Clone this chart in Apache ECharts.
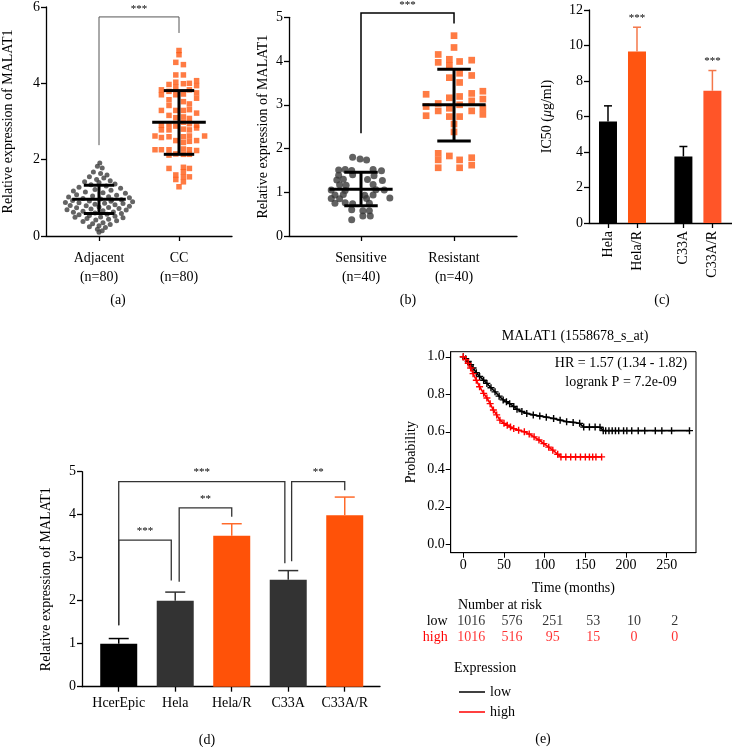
<!DOCTYPE html>
<html>
<head>
<meta charset="utf-8">
<script src="https://cdn.jsdelivr.net/npm/echarts@6/dist/echarts.min.js"></script>
<style>
  html, body { margin: 0; background: #fff; }
  #chart { width: 732px; height: 747px; }
</style>
</head>
<body>
<div id="chart"></div>
<script>
// ---- data ----
// (a) tissue: [x jitter, value]
const aCats = ['Adjacent\n(n=80)', 'CC\n(n=80)'];
const aAdjacent = [
  [0.01,1.91],[-0.02,1.83],[0.04,1.78],[-0.07,1.68],[0.02,1.64],[0.1,1.6],[-0.12,1.55],[0.06,1.52],
  [-0.03,1.48],[0.14,1.45],[-0.18,1.42],[0.0,1.4],[0.2,1.36],[-0.1,1.34],[0.09,1.31],[-0.25,1.28],
  [0.27,1.25],[-0.05,1.22],[0.15,1.2],[-0.32,1.18],[-0.17,1.15],[0.05,1.13],[0.33,1.12],[-0.28,1.08],
  [0.22,1.07],[-0.08,1.05],[0.12,1.03],[-0.38,1.02],[0.38,1.0],[-0.2,0.98],[0.02,0.97],[0.28,0.95],
  [-0.33,0.93],[-0.12,0.92],[0.15,0.91],[0.42,0.9],[-0.42,0.88],[-0.25,0.87],[0.07,0.86],[0.3,0.85],
  [-0.05,0.83],[0.2,0.82],[-0.36,0.8],[-0.16,0.79],[0.38,0.78],[0.0,0.76],[0.12,0.75],[-0.28,0.74],
  [0.25,0.72],[-0.1,0.71],[-0.4,0.69],[0.34,0.68],[0.05,0.66],[-0.2,0.65],[0.18,0.63],[-0.32,0.62],
  [-0.05,0.6],[0.28,0.59],[0.1,0.57],[-0.25,0.56],[-0.12,0.54],[0.2,0.52],[0.02,0.5],[-0.3,0.49],
  [0.3,0.48],[-0.15,0.46],[0.12,0.44],[-0.04,0.42],[0.22,0.4],[-0.2,0.38],[0.05,0.35],[-0.08,0.32],
  [0.14,0.3],[0.0,0.27],[-0.12,0.24],[0.08,0.22],[-0.02,0.18],[0.04,0.14],[0.0,0.1],[0.16,0.95]
];
const aCC = [
  [0,4.86],[0,4.75],[-0.04,4.55],[0.055,4.49],[-0.04,4.22],[0.055,4.22],
  [-0.125,3.97],[-0.04,4.03],[0.055,3.99],[0.13,4.0],[0.22,4.07],
  [-0.22,3.83],[-0.125,3.79],[-0.04,3.9],[0.13,3.83],[0.22,3.94],
  [-0.22,3.7],[-0.125,3.57],[-0.04,3.7],[0.055,3.72],[0.22,3.61],
  [-0.125,3.42],[0.055,3.52],[0.13,3.46],
  [-0.22,3.29],[-0.04,3.29],[0.055,3.29],[0.13,3.31],[0.22,3.22],
  [-0.125,3.16],[0.055,3.12],[0.13,3.08],
  [-0.22,2.9],[-0.125,2.92],[-0.04,2.88],[0.055,2.98],[0.13,2.94],[0.22,2.9],
  [-0.22,2.78],[-0.125,2.78],[0.055,2.8],[0.13,2.78],[0.22,2.83],
  [-0.3,2.62],[-0.22,2.58],[-0.125,2.6],[0.055,2.6],[0.13,2.62],[0.32,2.62],
  [-0.04,2.5],[0.055,2.45],[0.13,2.48],[0.22,2.5],
  [-0.3,2.26],[-0.22,2.26],[-0.125,2.26],[0.055,2.28],[0.13,2.26],[0.22,2.24],
  [-0.125,2.12],[-0.04,2.15],[0.055,2.14],[0.13,2.14],
  [-0.125,1.77],[0.055,1.8],[0.055,1.68],[0.13,1.77],
  [-0.04,1.6],[0.055,1.55],[0.13,1.55],[-0.04,1.48],[0.055,1.42],[0,1.29],
  [-0.04,3.1],[0.22,3.75]
];
const aMeanSd = [[0.96, 0.59, 1.33], [2.98, 2.14, 3.81]];
const aBrackets = [[0, 1, 2.38, 5.74, 5.32]];
const aSig = ['***'];

// (b) patients
const bCats = ['Sensitive\n(n=40)', 'Resistant\n(n=40)'];
const bSensitive = [
  [-0.09,1.8],[-0.01,1.76],[0.06,1.74],
  [-0.24,1.51],[-0.17,1.52],[-0.1,1.5],[0.13,1.52],[0.22,1.49],
  [-0.24,1.39],[-0.09,1.4],[0.14,1.38],
  [-0.26,1.28],[-0.19,1.3],[0.07,1.29],[0.23,1.27],
  [-0.23,1.17],[-0.16,1.16],[0.13,1.18],
  [-0.32,1.05],[-0.17,1.04],[0.16,1.06],[0.25,1.05],
  [-0.28,0.94],[-0.19,0.95],[0.04,0.93],[0.13,0.94],
  [-0.32,0.86],[-0.23,0.85],[0.06,0.86],[0.31,0.87],
  [-0.28,0.75],[-0.17,0.76],[-0.09,0.74],[0.09,0.75],
  [-0.1,0.6],[0.02,0.58],[0.09,0.58],[0.02,0.46],[0.1,0.46],[-0.1,0.37]
];
const bResistant = [
  [0,4.58],[0,4.31],[-0.17,4.15],[-0.17,3.97],[-0.05,4.04],[-0.05,3.9],[0.06,3.99],[0.19,4.02],
  [-0.05,3.62],[0.06,3.72],[0.19,3.67],[0.06,3.51],
  [-0.3,3.24],[-0.17,3.03],[-0.05,3.16],[0.06,3.19],[0.06,3.0],[0.19,3.26],[0.19,3.09],[0.31,3.31],[0.31,3.13],
  [-0.3,2.96],[-0.3,2.75],[-0.17,2.86],[-0.05,2.92],[-0.05,2.73],[0.06,2.73],[0.19,2.86],[0.31,2.93],[0.31,2.78],
  [0,2.56],[0,2.38],
  [-0.17,1.89],[-0.17,1.74],[-0.17,1.56],[-0.05,1.83],[0.06,1.74],[0.06,1.56],[0.19,1.79],[0.19,1.62]
];
const bMeanSd = [[1.07, 0.69, 1.46], [3.0, 2.17, 3.81]];
const bBrackets = [[0, 1, 2.35, 5.1, 4.86]];
const bSig = ['***'];

// (c) IC50
const cCats = ['Hela', 'Hela/R', 'C33A', 'C33A/R'];
const cMean = [5.72, 9.66, 3.75, 7.45];
const cErr = [6.6, 11.03, 4.31, 8.59];
const cSig = ['', '***', '', '***'];

// (d) cell lines
const dCats = ['HcerEpic', 'Hela', 'Hela/R', 'C33A', 'C33A/R'];
const dMean = [1.0, 2.0, 3.51, 2.49, 3.99];
const dErr = [1.12, 2.2, 3.79, 2.7, 4.41];
const dBrackets = [
  [0, 0.93, 1.43, 3.41, 2.47],
  [1.07, 2, 2.44, 4.16, 3.95],
  [0, 2.94, 1.43, 4.77, 2.87],
  [3.06, 4, 2.92, 4.77, 4.57]
];
const dSig = ['***', '**', '***', '**'];

// (e) Kaplan-Meier
const kmLow = [
  [0,1.0],[3,0.99],[6,0.975],[9,0.958],[12,0.94],[16,0.915],[20,0.895],[25,0.875],[29,0.858],
  [34,0.835],[39,0.813],[44,0.79],[49,0.77],[53,0.76],[57,0.75],[62,0.735],[66,0.72],[72,0.708],
  [78,0.698],[86,0.69],[94,0.684],[102,0.678],[111,0.671],[119,0.662],[127,0.654],[135,0.65],
  [143,0.645],[148,0.625],[155,0.625],[162,0.625],[168,0.624],[172,0.606],[175,0.606],[179,0.606],
  [183,0.606],[187,0.606],[191,0.606],[197,0.606],[201,0.606],[207,0.606],[215,0.606],[223,0.606],
  [236,0.606],[244,0.606],[256,0.606],[278,0.606]
];
const kmHigh = [
  [0,1.0],[3,0.985],[6,0.965],[9,0.94],[12,0.91],[16,0.875],[20,0.84],[25,0.805],[29,0.78],
  [33,0.75],[37,0.716],[41,0.69],[45,0.662],[50,0.645],[54,0.635],[58,0.625],[62,0.617],[68,0.608],
  [75,0.6],[81,0.588],[87,0.573],[93,0.556],[99,0.537],[105,0.518],[110,0.502],[116,0.48],
  [120,0.466],[126,0.466],[132,0.466],[138,0.466],[144,0.466],[150,0.466],[155,0.466],[159,0.466],
  [163,0.466],[170,0.466]
];
const riskTimes = [0, 50, 100, 150, 200, 250];
const riskLow = [1016, 576, 251, 53, 10, 2];
const riskHigh = [1016, 516, 95, 15, 0, 0];

// ---- helpers ----
const F = '"Liberation Serif", "DejaVu Serif", serif';
const FS = 14;
const txt = (size, color) => ({ fontFamily: F, fontSize: size, color: color || '#000' });
const axLine = { show: true, onZero: false, lineStyle: { color: '#000', width: 1.3 } };
const axTick = { show: true, length: 5, lineStyle: { color: '#000', width: 1.3 } };

function xCustom(gridIndex, min, max, ticks, labels, labelExtra) {
  return {
    type: 'value', gridIndex, min, max,
    axisLine: axLine,
    axisTick: Object.assign({ customValues: ticks }, axTick),
    axisLabel: Object.assign({
      customValues: ticks,
      formatter: v => labels[ticks.findIndex(t => Math.abs(t - v) < 1e-6)] || ''
    }, txt(FS), labelExtra || {}),
    splitLine: { show: false }
  };
}

function yValue(gridIndex, min, max, interval, name, nameGap) {
  return {
    type: 'value', gridIndex, min, max, interval,
    name, nameLocation: 'middle', nameGap, nameTextStyle: txt(FS),
    axisLine: axLine, axisTick: axTick,
    axisLabel: Object.assign({ margin: 6 }, txt(FS)),
    splitLine: { show: false }
  };
}

function seg(a, b, color, w) {
  return { type: 'line', shape: { x1: a[0], y1: a[1], x2: b[0], y2: b[1] }, style: { stroke: color, lineWidth: w } };
}

function meanSdRender(halfMean, halfCap) {
  return (params, api) => {
    const x = api.value(0), m = api.value(1), lo = api.value(2), hi = api.value(3);
    return {
      type: 'group', children: [
        seg(api.coord([x - halfMean, m]), api.coord([x + halfMean, m]), '#000', 3),
        seg(api.coord([x, lo]), api.coord([x, hi]), '#000', 3),
        seg(api.coord([x - halfCap, lo]), api.coord([x + halfCap, lo]), '#000', 3),
        seg(api.coord([x - halfCap, hi]), api.coord([x + halfCap, hi]), '#000', 3)
      ]
    };
  };
}

function textEl(x, y, s, size, align, color) {
  return {
    type: 'text', x, y,
    style: { text: s, font: size + 'px ' + F, fill: color || '#000', textAlign: align || 'center', textVerticalAlign: 'middle', align: align || 'center', verticalAlign: 'middle' }
  };
}

function bracketRender(sigs, color, width, lift, size) {
  return (params, api) => {
    const x1 = api.value(0), x2 = api.value(1);
    const a = api.coord([x1, api.value(2)]), b = api.coord([x1, api.value(3)]);
    const c = api.coord([x2, api.value(3)]), d = api.coord([x2, api.value(4)]);
    return {
      type: 'group', children: [
        { type: 'polyline', shape: { points: [a, b, c, d] }, style: { stroke: color, lineWidth: width, fill: 'none' } },
        textEl((b[0] + c[0]) / 2, b[1] - lift, sigs[params.dataIndex], size)
      ]
    };
  };
}

function barErrRender(colors, sigs, capHalf, lift) {
  return (params, api) => {
    const top = api.coord([api.value(0), api.value(1)]);
    const end = api.coord([api.value(0), api.value(2)]);
    const col = colors[params.dataIndex];
    const ch = [
      seg(top, end, col, 1.5),
      seg([end[0] - capHalf, end[1]], [end[0] + capHalf, end[1]], col, 1.5)
    ];
    if (sigs && sigs[params.dataIndex]) ch.push(textEl(end[0], end[1] - lift, sigs[params.dataIndex], 11));
    return { type: 'group', children: ch };
  };
}

// positions of the bars in (c): two groups of two
const cPos = cCats.map((c, i) => i + (i >= 2 ? 0.6 : 0));
const cColor = ['#000000', '#FF5511', '#000000', '#FF5528'];
const cErrColor = ['#000000', '#F4774A', '#000000', '#F4774A'];
const dPos = dCats.map((c, i) => i);
const dColor = ['#000000', '#333333', '#FF5208', '#333333', '#FF5208'];
const dErrColor = ['#000000', '#333333', '#FF6A2A', '#333333', '#FF6A2A'];

const plus = 'path://M4,0H6V4H10V6H6V10H4V6H0V4H4Z';

const chart = echarts.init(document.getElementById('chart'));

const option = {
  animation: false,
  backgroundColor: '#fff',
  textStyle: { fontFamily: F },
  grid: [
    { left: 46, top: 6, width: 186, height: 230 },
    { left: 289, top: 17.3, width: 228, height: 218.7 },
    { left: 589, top: 10, width: 143, height: 213 },
    { left: 82, top: 471.7, width: 298, height: 215 },
    { left: 450.7, top: 351.7, width: 245.3, height: 201, show: true, borderColor: '#000', borderWidth: 1 },
    { left: 450.7, top: 613, width: 245.3, height: 32 }
  ],
  xAxis: [
    xCustom(0, -0.6625, 1.6625, [0, 1], aCats, { lineHeight: 19, margin: 13 }),
    xCustom(1, -0.774, 1.677, [0, 1], bCats, { lineHeight: 19, margin: 13 }),
    xCustom(2, -0.655, 4.276, cPos, cCats, { rotate: 90, margin: 8 }),
    xCustom(3, -0.65, 4.624, dPos, dCats, { margin: 10 }),
    {
      type: 'value', gridIndex: 4, min: -15.5, max: 286,
      name: 'Time (months)', nameLocation: 'middle', nameGap: 29, nameTextStyle: txt(FS),
      axisLine: { show: true, onZero: false, lineStyle: { color: '#000', width: 1 } },
      axisTick: { show: true, length: 5, customValues: riskTimes, lineStyle: { color: '#000' } },
      axisLabel: Object.assign({ customValues: riskTimes, margin: 6 }, txt(FS)),
      splitLine: { show: false }
    },
    { type: 'value', gridIndex: 5, min: -15.5, max: 286, show: false }
  ],
  yAxis: [
    yValue(0, 0, 6, 2, 'Relative expression of MALAT1', 31),
    yValue(1, 0, 5, 1, 'Relative expression of MALAT1', 19),
    Object.assign(yValue(2, 0, 12, 2, 'IC50 ({i|μ}g/ml)', 35), {
      nameTextStyle: Object.assign({ rich: { i: Object.assign({ fontStyle: 'italic' }, txt(FS)) } }, txt(FS))
    }),
    yValue(3, 0, 5, 1, 'Relative expression of MALAT1', 29),
    {
      type: 'value', gridIndex: 4, min: -0.045, max: 1.027,
      name: 'Probability', nameLocation: 'middle', nameGap: 32, nameTextStyle: txt(FS),
      axisLine: { show: true, onZero: false, lineStyle: { color: '#000', width: 1 } },
      axisTick: { show: true, length: 5, customValues: [0, 0.2, 0.4, 0.6, 0.8, 1.0], lineStyle: { color: '#000' } },
      axisLabel: Object.assign({ customValues: [0, 0.2, 0.4, 0.6, 0.8, 1.0], formatter: v => v.toFixed(1), margin: 6 }, txt(FS)),
      splitLine: { show: false }
    },
    {
      type: 'value', gridIndex: 5, min: -0.5, max: 1.5, inverse: true,
      axisLine: { show: false }, axisTick: { show: false }, splitLine: { show: false },
      axisLabel: {
        customValues: [0, 1], margin: 3, fontFamily: F, fontSize: FS,
        formatter: v => (v < 0.5 ? 'low' : 'high'),
        color: v => (v < 0.5 ? '#000' : '#FF0000')
      }
    }
  ],
  legend: {
    data: ['low', 'high'], orient: 'vertical', left: 454, top: 680,
    icon: 'rect', itemWidth: 26, itemHeight: 1.5, itemGap: 6,
    textStyle: txt(FS)
  },
  graphic: [
    textEl(118, 300, '(a)', FS),
    textEl(408, 300, '(b)', FS),
    textEl(662, 300, '(c)', FS),
    textEl(207, 740, '(d)', FS),
    textEl(543, 739, '(e)', FS),
    textEl(575, 336, 'MALAT1 (1558678_s_at)', FS),
    textEl(621, 363, 'HR = 1.57 (1.34 - 1.82)', FS),
    textEl(621, 382, 'logrank P = 7.2e-09', FS),
    textEl(458, 605, 'Number at risk', FS, 'left'),
    textEl(454, 668, 'Expression', FS, 'left')
  ],
  series: [
    // (a)
    { type: 'scatter', xAxisIndex: 0, yAxisIndex: 0, symbol: 'circle', symbolSize: 5,
      itemStyle: { color: '#3d3d3d' }, data: aAdjacent.map(p => [0 + p[0], p[1]]) },
    { type: 'scatter', xAxisIndex: 0, yAxisIndex: 0, symbol: 'rect', symbolSize: 5.5,
      itemStyle: { color: '#FF5A14' }, data: aCC.map(p => [1 + p[0], p[1]]) },
    { type: 'custom', xAxisIndex: 0, yAxisIndex: 0, z: 5, renderItem: meanSdRender(0.335, 0.19),
      data: aMeanSd.map((s, i) => [i].concat(s)) },
    { type: 'custom', xAxisIndex: 0, yAxisIndex: 0, z: 5, renderItem: bracketRender(aSig, '#555', 1, 8, 11),
      data: aBrackets },
    // (b)
    { type: 'scatter', xAxisIndex: 1, yAxisIndex: 1, symbol: 'circle', symbolSize: 7,
      itemStyle: { color: '#3a3a3a' }, data: bSensitive.map(p => [0 + p[0], p[1]]) },
    { type: 'scatter', xAxisIndex: 1, yAxisIndex: 1, symbol: 'rect', symbolSize: 6.7,
      itemStyle: { color: '#FF5A14' }, data: bResistant.map(p => [1 + p[0], p[1]]) },
    { type: 'custom', xAxisIndex: 1, yAxisIndex: 1, z: 5, renderItem: meanSdRender(0.34, 0.18),
      data: bMeanSd.map((s, i) => [i].concat(s)) },
    { type: 'custom', xAxisIndex: 1, yAxisIndex: 1, z: 5, renderItem: bracketRender(bSig, '#000', 1.5, 8, 11),
      data: bBrackets },
    // (c)
    { type: 'bar', xAxisIndex: 2, yAxisIndex: 2, barWidth: 18,
      data: cCats.map((c, i) => ({ value: [cPos[i], cMean[i]], itemStyle: { color: cColor[i] } })) },
    { type: 'custom', xAxisIndex: 2, yAxisIndex: 2, z: 5, renderItem: barErrRender(cErrColor, cSig, 4, 9),
      data: cCats.map((c, i) => [cPos[i], cMean[i], cErr[i]]) },
    // (d)
    { type: 'bar', xAxisIndex: 3, yAxisIndex: 3, barWidth: 37,
      data: dCats.map((c, i) => ({ value: [dPos[i], dMean[i]], itemStyle: { color: dColor[i] } })) },
    { type: 'custom', xAxisIndex: 3, yAxisIndex: 3, z: 5, renderItem: barErrRender(dErrColor, null, 10, 0),
      data: dCats.map((c, i) => [dPos[i], dMean[i], dErr[i]]) },
    { type: 'custom', xAxisIndex: 3, yAxisIndex: 3, z: 5, renderItem: bracketRender(dSig, '#333', 1.3, 9, 11),
      data: dBrackets },
    // (e)
    { type: 'line', name: 'low', xAxisIndex: 4, yAxisIndex: 4, data: kmLow, color: '#000',
      symbol: plus, symbolSize: 7, showSymbol: true, lineStyle: { color: '#000', width: 1.6 }, itemStyle: { color: '#000' } },
    { type: 'line', name: 'high', xAxisIndex: 4, yAxisIndex: 4, data: kmHigh, color: '#FF0000',
      symbol: plus, symbolSize: 7, showSymbol: true, lineStyle: { color: '#FF0000', width: 1.6 }, itemStyle: { color: '#FF0000' } },
    { type: 'scatter', xAxisIndex: 5, yAxisIndex: 5, symbolSize: 1, itemStyle: { color: 'rgba(0,0,0,0)' },
      label: Object.assign({ show: true, position: 'inside', offset: [8, 0], formatter: p => p.value[2] }, txt(FS)),
      data: riskTimes.map((t, i) => [t, 0, riskLow[i]]) },
    { type: 'scatter', xAxisIndex: 5, yAxisIndex: 5, symbolSize: 1, itemStyle: { color: 'rgba(0,0,0,0)' },
      label: Object.assign({ show: true, position: 'inside', offset: [8, 0], formatter: p => p.value[2] }, txt(FS, '#FF0000')),
      data: riskTimes.map((t, i) => [t, 1, riskHigh[i]]) }
  ]
};

chart.setOption(option);
window.addEventListener('resize', () => chart.resize());
</script>
</body>
</html>
